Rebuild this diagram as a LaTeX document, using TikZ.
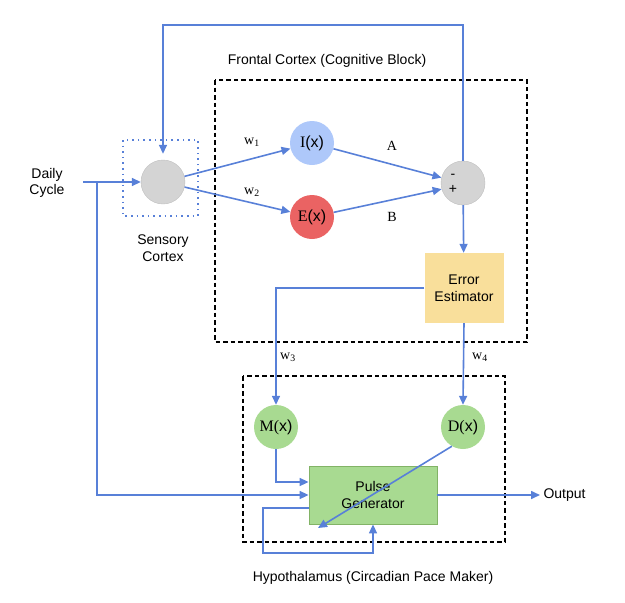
\documentclass[tikz,border=0pt]{standalone}
\usepackage{fontspec}
\setmainfont{Liberation Sans}
\newfontfamily\serifnote{Liberation Serif}
\usetikzlibrary{arrows.meta,positioning}
\definecolor{linkblue}{RGB}{88,128,216}
\definecolor{sensegray}{RGB}{212,212,212}
\definecolor{inhibblue}{RGB}{174,200,250}
\definecolor{excitered}{RGB}{234,99,99}
\definecolor{pacegreen}{RGB}{168,218,145}
\definecolor{pacedark}{RGB}{130,179,102}
\definecolor{erroryellow}{RGB}{249,223,155}
\begin{document}
\begin{tikzpicture}
    [x=1pt,y=-1pt,
    font=\fontsize{14}{16.5}\selectfont,
    wire/.style={draw=linkblue,line width=1.6pt},
    link/.style={wire,-{Triangle[length=9pt,width=8pt]}},
    region/.style={draw=black,line width=1.8pt,dash pattern=on 4.5pt off 3pt},
    unit/.style={circle,minimum size=44pt,inner sep=0pt,font=\fontsize{16}{18}\selectfont},
    weight/.style={font=\serifnote\fontsize{14}{16}\selectfont}]
    \useasboundingbox (0,0) rectangle (625,603);
    %blocks
    \draw[region] (215,80) rectangle (527,342);
    \draw[region] (243,376) rectangle (505,542);
    \draw[draw=linkblue,line width=1.6pt,dash pattern=on 1.6pt off 4pt] (123,140) rectangle (198,216);
    \node (frontal) at (327,61) {Frontal Cortex (Cognitive Block)};
    \node (hypo) at (373,578) {Hypothalamus (Circadian Pace Maker)};
    %units
    \node[unit,fill=sensegray,draw=gray!50] (sense) at (163,182) {};
    \node[align=center] (sensetext) at (163,248) {Sensory\\Cortex};
    \node[align=center] (daily) at (47,183) {Daily\\Cycle};
    \node[unit,fill=inhibblue] (ix) at (312,143) {{\serifnote I}(x)};
    \node[unit,fill=excitered] (ex) at (312,217) {{\serifnote E}(x)};
    \node[unit,fill=sensegray,draw=gray!50] (sum) at (463,183) {};
    \node (minus) at (453,176) {-};
    \node (plus) at (453,189) {+};
    \node[fill=erroryellow,minimum width=79pt,minimum height=70pt,align=center] (error) at (464,288) {Error\\Estimator};
    \node[unit,fill=pacegreen] (mx) at (276,427) {{\serifnote M(}x)};
    \node[unit,fill=pacegreen] (dx) at (463,427) {{\serifnote D(}x)};
    \node[fill=pacegreen,draw=pacedark,line width=0.8pt,minimum width=128pt,minimum height=58pt,align=center] (pulse) at (373,495) {Pulse\\Generator};
    \node[anchor=west] (output) at (540,495) {Output};
    %weights
    \node[weight] (w1) at (252,142) {w\textsubscript{1}};
    \node[weight] (w2) at (252,192) {w\textsubscript{2}};
    \node[weight] (wa) at (392,146) {A};
    \node[weight] (wb) at (392,217) {B};
    \node[weight] (w3) at (288,357) {w\textsubscript{3}};
    \node[weight] (w4) at (480,357) {w\textsubscript{4}};
    %input
    \coordinate (in) at (83,182);
    \coordinate (split) at (97,182);
    \draw[link] (in) -- (sense.west);
    \draw[link] (split) |- (pulse.west);
    %cognitive path
    \draw[link] (sense) -- (ix);
    \draw[link] (sense) -- (ex);
    \draw[link] (ix) -- (sum.166);
    \draw[link] (ex) -- (sum.196);
    \coordinate (top) at (463,25);
    \draw[link,shorten >=6pt] (sum.north) -- (top) -| (sense.north);
    \draw[link] (sum) -- (error);
    \draw[link] (error.west) -| (mx.north);
    \draw[link] (error.south) -- (dx.north);
    %pace maker
    \draw[link] (mx.south) |- ([yshift=13pt]pulse.west);
    \coordinate (hit) at (318,528);
    \draw[link] (dx.240) -- (hit);
    \coordinate (loopl) at (263,553);
    \draw[link] ([yshift=-13pt]pulse.west) -| (loopl) -| (pulse.south);
    \draw[link] (pulse.east) -- (output.west);
\end{tikzpicture}
\end{document}
